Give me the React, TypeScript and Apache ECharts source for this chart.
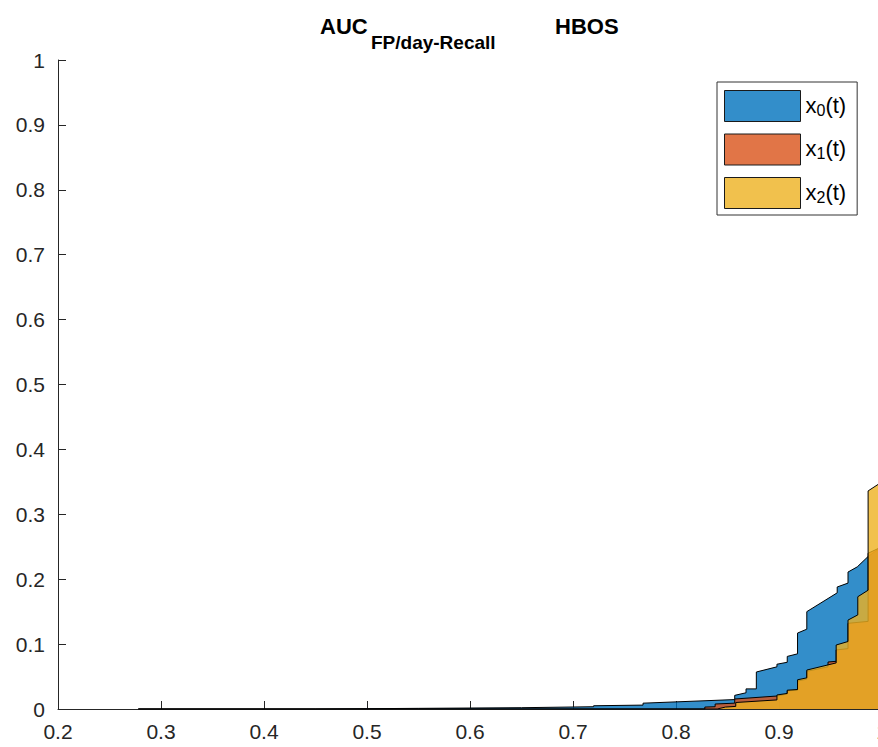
import React, { useEffect, useRef } from "react";
import * as echarts from "echarts";

// Series outlines as [x, y] pairs (vertical steps are repeated x values)
const x0Pts: [number, number][] = [
  [0.278, 0], [0.45, 0], [0.55, 0.001], [0.65, 0.002], [0.72, 0.0035], [0.72, 0.005],
  [0.768, 0.006], [0.768, 0.009], [0.857, 0.0145], [0.857, 0.021], [0.868, 0.025],
  [0.868, 0.031], [0.878, 0.031], [0.878, 0.057], [0.898, 0.065], [0.898, 0.069],
  [0.908, 0.072], [0.908, 0.081], [0.918, 0.085], [0.918, 0.117], [0.927, 0.123],
  [0.927, 0.15], [0.9565, 0.179], [0.9565, 0.188], [0.967, 0.194], [0.967, 0.211],
  [0.976, 0.219], [0.9865, 0.235], [1, 0.25],
];
const x1Pts: [number, number][] = [
  [0.278, 0], [0.828, 0], [0.828, 0.003], [0.838, 0.0035], [0.838, 0.0077],
  [0.857, 0.009], [0.857, 0.0154], [0.898, 0.02], [0.898, 0.021], [0.908, 0.023],
  [0.908, 0.028], [0.918, 0.029], [0.918, 0.043], [0.927, 0.046], [0.927, 0.058],
  [0.9476, 0.065], [0.9476, 0.0724], [0.9555, 0.0735], [0.9555, 0.091], [0.967, 0.093],
  [0.967, 0.132], [0.9865, 0.135], [0.9865, 0.24], [1, 0.25],
];
const x2Pts: [number, number][] = [
  [0.278, 0], [0.84, 0], [0.848, 0.003], [0.858, 0.004], [0.858, 0.01], [0.898, 0.014],
  [0.898, 0.0216], [0.908, 0.024], [0.908, 0.029], [0.918, 0.03], [0.918, 0.045],
  [0.927, 0.048], [0.927, 0.06], [0.9555, 0.071], [0.9555, 0.0986], [0.967, 0.104],
  [0.967, 0.137], [0.9765, 0.145], [0.9765, 0.173], [0.9865, 0.183], [0.9865, 0.336],
  [1, 0.35],
];

const seriesNames = ["x0(t)", "x1(t)", "x2(t)"];
const subscripts = ["0", "1", "2"];
const faceColors = ["#0072BD", "#D95319", "#EDB120"];
const legendColors = ["#338ECA", "#E17547", "#F1C14D"];
const titleMain = "AUC";
const titleSub = "FP/day-Recall";
const titleTail = "HBOS";

const FONT = "'Liberation Sans', Arial, Helvetica, sans-serif";
const AXIS = "#262626";

export default function App() {
  const ref = useRef<HTMLDivElement>(null);
  useEffect(() => {
    if (!ref.current) return;
    const chart = echarts.init(ref.current, undefined, { renderer: "svg" });
    const allPts = [x0Pts, x1Pts, x2Pts];
    const fmt = (v: number) => parseFloat(v.toFixed(2)).toString();
    chart.setOption({
      animation: false,
      backgroundColor: "#fff",
      graphic: [
        { type: "text", left: 320, top: 15, style: { text: titleMain, font: `bold 22px ${FONT}`, fill: "#000" } },
        { type: "text", left: 371, top: 33, style: { text: titleSub, font: `bold 19px ${FONT}`, fill: "#000" } },
        { type: "text", left: 555, top: 15, style: { text: titleTail, font: `bold 22px ${FONT}`, fill: "#000" } },
      ],
      legend: {
        orient: "vertical",
        left: 717,
        top: 82,
        padding: [8, 11, 6, 7],
        itemWidth: 76,
        itemHeight: 31,
        itemGap: 11.5,
        borderColor: "#333",
        borderWidth: 1,
        backgroundColor: "#fff",
        data: seriesNames.map((n, i) => ({
          name: n,
          icon: "rect",
          itemStyle: { color: legendColors[i], borderColor: "#1a1a1a", borderWidth: 1, opacity: 1 },
        })),
        formatter: (name: string) => {
          const i = seriesNames.indexOf(name);
          return `{x|x}{s|${subscripts[i]}}{x|(t)}`;
        },
        textStyle: {
          fontFamily: FONT,
          color: "#000",
          rich: {
            x: { fontSize: 22, fontFamily: FONT, color: "#000", lineHeight: 24, verticalAlign: "top" },
            s: { fontSize: 16, fontFamily: FONT, color: "#000", lineHeight: 18, padding: [12, 0, 0, 0], verticalAlign: "bottom" },
          },
        },
      },
      grid: { left: 58, top: 60, bottom: 38, width: 824, outerBoundsMode: "none", containLabel: false },
      xAxis: {
        type: "value",
        min: 0.2,
        max: 1,
        interval: 0.1,
        splitLine: { show: false },
        axisLine: { lineStyle: { color: AXIS, width: 1 } },
        axisTick: { inside: true, length: 8, lineStyle: { color: AXIS } },
        axisLabel: { color: AXIS, fontSize: 21, fontFamily: FONT, margin: 12, formatter: fmt, hideOverlap: false },
      },
      yAxis: {
        type: "value",
        min: 0,
        max: 1,
        interval: 0.1,
        splitLine: { show: false },
        axisLine: { show: true, lineStyle: { color: AXIS, width: 1 } },
        axisTick: { show: true, inside: true, length: 8, lineStyle: { color: AXIS } },
        axisLabel: { color: AXIS, fontSize: 21, fontFamily: FONT, margin: 13, formatter: fmt },
      },
      series: allPts.map((pts, i) => ({
        name: seriesNames[i],
        type: "line",
        data: pts,
        symbol: "none",
        showSymbol: false,
        color: faceColors[i],
        lineStyle: { color: "#000", width: 1 },
        areaStyle: { color: faceColors[i], opacity: 0.8 },
        z: 2 + i,
      })),
    });
    return () => chart.dispose();
  }, []);
  return (
    <div
      ref={ref}
      style={{ position: "fixed", left: 0, top: 0, width: 878, height: 747, overflow: "hidden" }}
    />
  );
}
